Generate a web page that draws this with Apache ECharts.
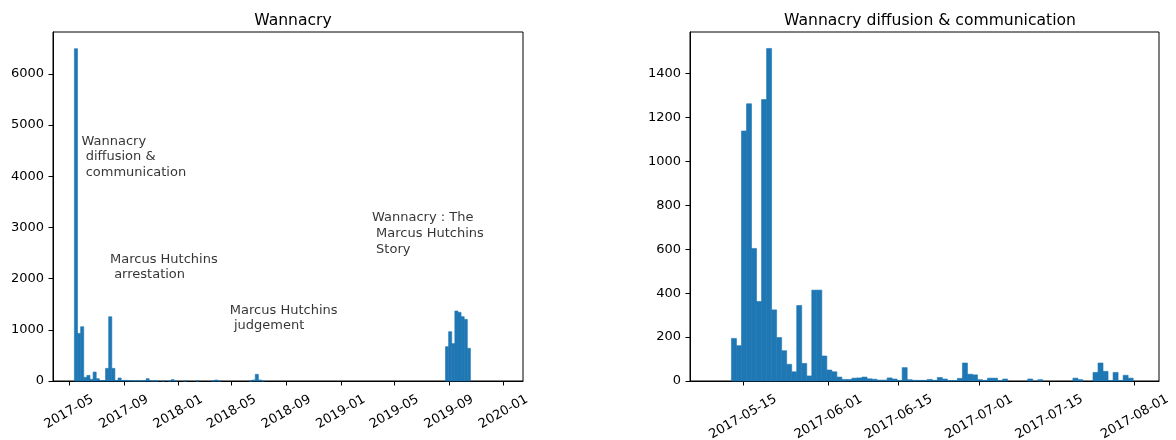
<!DOCTYPE html>
<html>
<head>
<meta charset="utf-8">
<script src="https://cdn.jsdelivr.net/npm/echarts@6/dist/echarts.min.js"></script>
<style>
html,body{margin:0;padding:0;background:#fff;}
#chart{width:1176px;height:440px;}
</style>
</head>
<body>
<div id="chart"></div>
<script>
// ---------------- DATA ----------------
const leftTitle = 'Wannacry';
const rightTitle = 'Wannacry diffusion & communication';

// Left histogram: weekly bins starting at leftBinStart
const leftBinStart = '2017-05-13';
const leftBinDays = 7;
const leftCounts = [
  6490, 930, 1060, 71, 110, 33, 175, 45, 10, 10,          // 0-9
  247, 1255, 247, 10, 59, 12, 12, 8, 4, 4,                // 10-19
  3, 3, 5, 45, 5, 2, 2, 0, 2, 0,                          // 20-29
  2, 26, 2, 0, 0, 2, 0, 0, 0, 2,                          // 30-39
  0, 0, 0, 0, 2, 20, 2, 0, 0, 0,                          // 40-49
  0, 0, 0, 0, 0, 0, 2, 20, 130, 20,                       // 50-59
  2, 0, 0, 0, 0, 0, 0, 0, 0, 0,                           // 60-69
  0, 0, 0, 0, 0, 0, 0, 0, 0, 0,                           // 70-79
  0, 0, 0, 0, 0, 0, 0, 0, 0, 0,                           // 80-89
  0, 0, 0, 0, 0, 0, 0, 0, 0, 0,                           // 90-99
  0, 0, 0, 0, 0, 0, 0, 0, 0, 0,                           // 100-109
  0, 0, 0, 0, 0, 0, 0, 0, 0, 670,                         // 110-119
  963, 730, 1367, 1340, 1256, 1204, 638, 0, 0, 0,         // 120-129
  0, 0, 0, 0, 0, 0, 0                                     // 130-136
];
const leftXMin = '2017-03-26';
const leftXMax = '2020-02-14';
const leftYMax = 6816;
const leftXTicks = ['2017-05','2017-09','2018-01','2018-05','2018-09','2019-01','2019-05','2019-09','2020-01'];
const leftYTicks = [0, 1000, 2000, 3000, 4000, 5000, 6000];

// Left annotations: [date, value, text]
const leftNotes = [
  ['2017-05-29', 4000, 'Wannacry\n diffusion &\n communication'],
  ['2017-08-01', 2000, 'Marcus Hutchins\n arrestation'],
  ['2018-04-27', 1000, 'Marcus Hutchins\n judgement'],
  ['2019-03-12', 2500, 'Wannacry : The\n Marcus Hutchins\n Story']
];

// Right histogram: daily bins
const rightBinStart = '2017-05-12T16:30';
const rightBinDays = 1;
const rightCounts = [
  194, 161, 1139, 1263, 604, 362, 1282, 1515, 324, 198,
  138, 76, 42, 344, 80, 23, 414, 414, 114, 50,
  42, 18, 7, 7, 13, 14, 18, 10, 8, 4,
  4, 14, 9, 2, 61, 6, 3, 3, 3, 7,
  3, 16, 9, 2, 2, 12, 82, 31, 28, 6,
  3, 13, 13, 2, 9, 0, 0, 0, 0, 9,
  0, 6, 0, 0, 0, 0, 0, 0, 13, 6,
  0, 0, 39, 82, 44, 2, 39, 2, 26, 13
];
const rightXMin = '2017-05-04T10:30';
const rightXMax = '2017-08-05T20:00';
const rightYMax = 1590;
const rightXTicks = ['2017-05-15','2017-06-01','2017-06-15','2017-07-01','2017-07-15','2017-08-01'];
const rightYTicks = [0, 200, 400, 600, 800, 1000, 1200, 1400];

// ---------------- HELPERS ----------------
const DAY = 86400000;
function ts(s) {
  const m = s.match(/^(\d{4})-(\d{2})(?:-(\d{2}))?(?:T(\d{2}):(\d{2}))?$/);
  return Date.UTC(+m[1], +m[2] - 1, m[3] ? +m[3] : 1, m[4] ? +m[4] : 0, m[5] ? +m[5] : 0);
}
function pad(n) { return n < 10 ? '0' + n : '' + n; }
function fmtMonth(v) { const d = new Date(v); return d.getUTCFullYear() + '-' + pad(d.getUTCMonth() + 1); }
function fmtDay(v) { const d = new Date(v); return d.getUTCFullYear() + '-' + pad(d.getUTCMonth() + 1) + '-' + pad(d.getUTCDate()); }
function fmtNum(v) { return String(Math.round(v)); }
function bins(start, days, counts) {
  const s = ts(start);
  return counts.map((c, i) => [s + i * days * DAY, s + (i + 1) * days * DAY, c]);
}

const BLUE = '#1f77b4';
const TXT = '#000';
const FONT = 'DejaVu Sans';

function histSeries(idx, data) {
  return {
    type: 'custom',
    xAxisIndex: idx, yAxisIndex: idx,
    data: data,
    silent: true,
    encode: { x: [0, 1], y: 2 },
    renderItem: function (params, api) {
      if (!api.value(2)) return null;
      const p0 = api.coord([api.value(0), api.value(2)]);
      const p1 = api.coord([api.value(1), 0]);
      return {
        type: 'rect',
        shape: { x: p0[0], y: p0[1], width: p1[0] - p0[0], height: p1[1] - p0[1] },
        style: { fill: BLUE, stroke: BLUE, lineWidth: 0.6 }
      };
    }
  };
}

function xAxis(idx, min, max, ticks, fmt, margin) {
  const vals = ticks.map(ts);
  return {
    type: 'value', gridIndex: idx, min: ts(min), max: ts(max),
    splitLine: { show: false },
    axisLine: { show: true, onZero: false, lineStyle: { color: '#000', width: 1 } },
    axisTick: { show: true, length: 4.5, customValues: vals, lineStyle: { color: '#000', width: 1 } },
    axisLabel: {
      customValues: vals, formatter: fmt, rotate: 30, margin: margin,
      align: 'center', verticalAlign: 'middle',
      color: TXT, fontFamily: FONT, fontSize: 13
    }
  };
}
function yAxis(idx, max, ticks) {
  return {
    type: 'value', gridIndex: idx, min: 0, max: max,
    splitLine: { show: false },
    axisLine: { show: true, lineStyle: { color: '#000', width: 1 } },
    axisTick: { show: true, length: 4.5, customValues: ticks, lineStyle: { color: '#000', width: 1 } },
    axisLabel: { customValues: ticks, formatter: fmtNum, margin: 9, color: TXT, fontFamily: FONT, fontSize: 13 }
  };
}

const chart = echarts.init(document.getElementById('chart'), null, { renderer: 'canvas' });
chart.setOption({
  backgroundColor: '#fff',
  animation: false,
  title: [
    { text: leftTitle, left: 288, top: 8, textAlign: 'center',
      textStyle: { fontFamily: FONT, fontSize: 15.6, fontWeight: 'normal', color: TXT } },
    { text: rightTitle, left: 925, top: 8, textAlign: 'center',
      textStyle: { fontFamily: FONT, fontSize: 15.6, fontWeight: 'normal', color: TXT } }
  ],
  grid: [
    { left: 53, right: 653, top: 32, bottom: 59, containLabel: false, outerBoundsMode: 'none',
      show: true, borderColor: '#000', borderWidth: 1, backgroundColor: 'transparent' },
    { left: 690, right: 17, top: 32, bottom: 59, containLabel: false, outerBoundsMode: 'none',
      show: true, borderColor: '#000', borderWidth: 1, backgroundColor: 'transparent' }
  ],
  xAxis: [
    xAxis(0, leftXMin, leftXMax, leftXTicks, fmtMonth, 31),
    xAxis(1, rightXMin, rightXMax, rightXTicks, fmtDay, 36)
  ],
  yAxis: [
    yAxis(0, leftYMax, leftYTicks),
    yAxis(1, rightYMax, rightYTicks)
  ],
  series: [
    histSeries(0, bins(leftBinStart, leftBinDays, leftCounts)),
    histSeries(1, bins(rightBinStart, rightBinDays, rightCounts)),
    {
      type: 'scatter', xAxisIndex: 0, yAxisIndex: 0, symbolSize: 0, silent: true,
      data: leftNotes.map(n => ({ value: [ts(n[0]), n[1]], name: n[2] })),
      label: {
        show: true, position: [0, 0], align: 'left', verticalAlign: 'bottom', offset: [0, 4],
        formatter: '{b}', color: TXT, fontFamily: FONT, fontSize: 13, lineHeight: 15.6
      }
    }
  ]
});
</script>
</body>
</html>
